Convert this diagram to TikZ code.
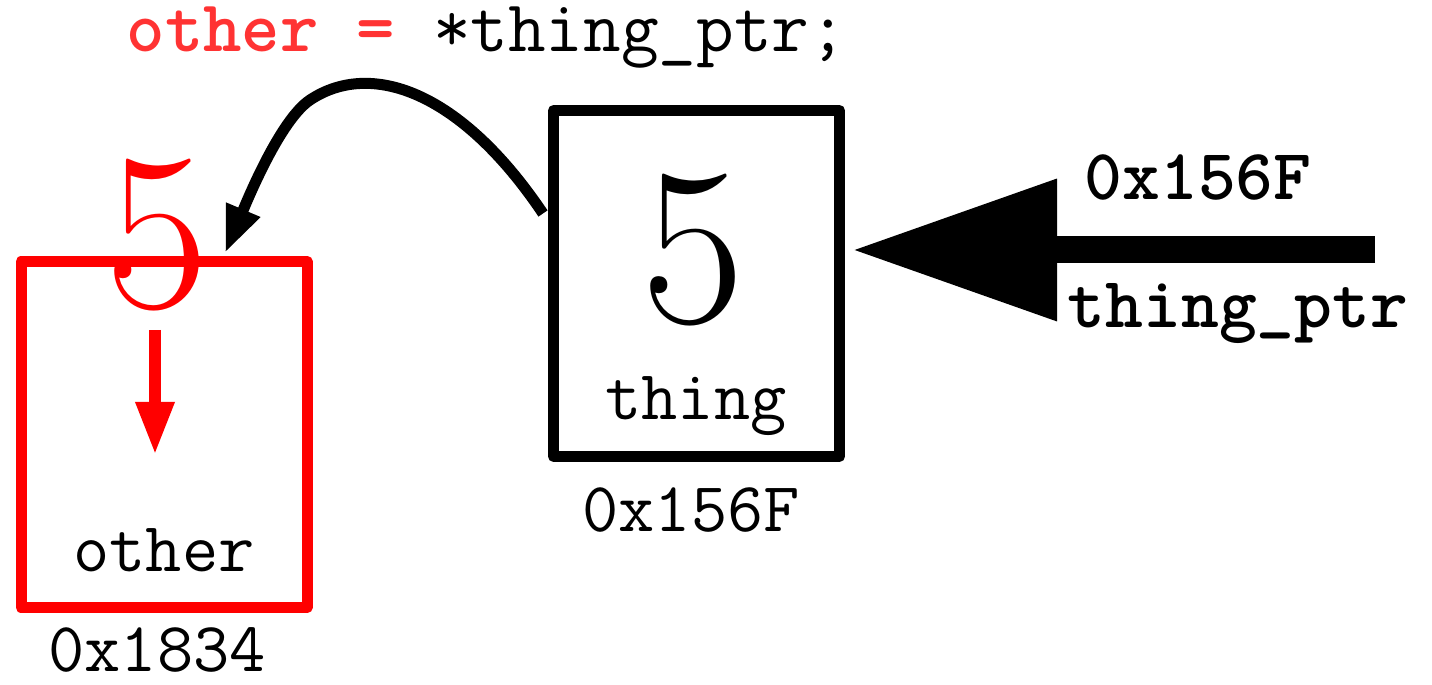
\documentclass[tikz,border=0pt]{standalone}
\usepackage{fontspec}
\usepackage{tikz}
\usetikzlibrary{
  arrows.meta,
  positioning,
  calc
}
\usepackage{xcolor}
\definecolor{assignred}{RGB}{255,51,51}

\begin{document}
\begin{tikzpicture}[
  cell/.style={draw=#1, line width=0.11cm, line join=round, minimum width=2.86cm,
               minimum height=3.46cm, inner sep=0pt},
  value/.style={font=\fontsize{64}{64}\selectfont\rmfamily, inner sep=0pt, anchor=base},
  label/.style={font=\fontsize{20}{22}\selectfont\ttfamily, inner sep=0pt, anchor=base},
  ptrlabel/.style={font=\fontsize{20.5}{22}\selectfont\ttfamily\bfseries, inner sep=0pt, anchor=base},
  deref/.style={-{Triangle[length=0.47cm, width=0.34cm]}, line width=0.11cm},
  copyarrow/.style={-{Triangle[length=0.53cm, width=0.36cm]}, line width=0.12cm, red},
  pointer/.style={-{Triangle[length=2.05cm, width=1.35cm]}, line width=0.27cm}
]
  \useasboundingbox (0,0) rectangle (14.32,6.85);

  % Statement
  \node[font=\fontsize{20.8}{22}\selectfont\ttfamily, inner sep=0pt, anchor=base west] (stmt)
    at (1.26,6.33) {\textcolor{assignred}{\textbf{other =}} *thing\_ptr;};

  % Memory cells
  \node[cell=black] (thing) at (6.965,4.015) {};
  \node[cell=red] (other) at (1.64,2.505) {};

  \node[value] (thingval) at (6.93,3.62) {5};
  \node[value, red] (otherval) at (1.57,3.77) {5};

  \node[label] (thingname) at (6.96,2.65) {thing};
  \node[label] (thingaddr) at (6.91,1.53) {0x156F};
  \node[label] (othername) at (1.64,1.13) {other};
  \node[label, text depth=0pt] (otheraddr) at (1.57,0.13) {0x1834};

  % Pointer
  \coordinate (ptrtail) at (13.75,4.35);
  \node[ptrlabel] (ptrval) at (11.98,4.85) {0x156F};
  \node[ptrlabel] (ptrname) at (12.38,3.57) {thing\_ptr};

  % Arrows
  \draw[pointer, shorten >=0.07cm] (ptrtail) -- (thing.east |- ptrtail);
  \draw[deref] ($(thing.west)+(-0.05,0.70)$) .. controls (4.6,5.95) and (3.7,6.25) .. (3.1,5.85)
    .. controls (2.8,5.65) and (2.47,4.84) .. ($(other.north)+(0.61,0.03)$);
  \draw[copyarrow] ($(otherval.base)+(-0.02,-0.22)$) -- ($(other.north)+(-0.09,-1.99)$);
\end{tikzpicture}
\end{document}
